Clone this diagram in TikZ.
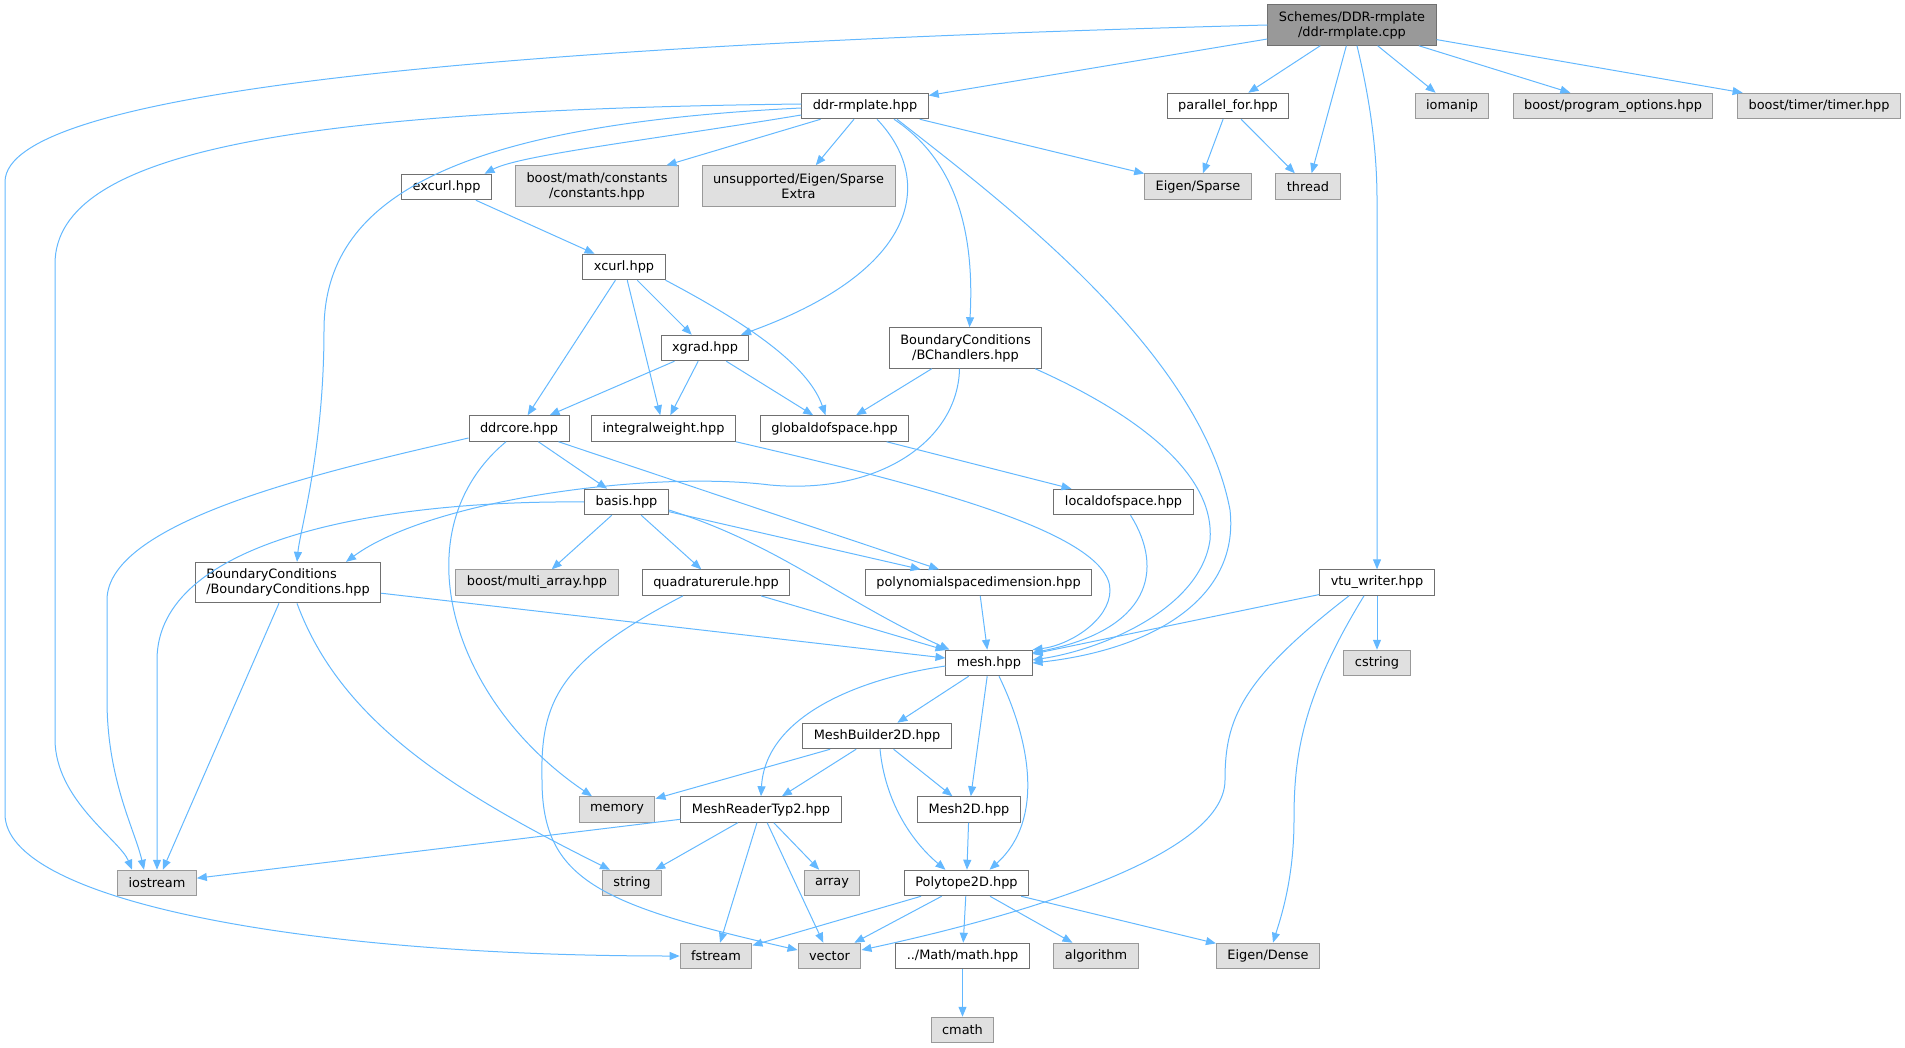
\documentclass[tikz,border=0pt]{standalone}
\usepackage{fontspec}
\setmainfont{DejaVu Sans}
\usetikzlibrary{arrows.meta,positioning}

\definecolor{edgeblue}{HTML}{63B8FF}
\definecolor{boxline}{HTML}{707070}
\definecolor{sysfill}{HTML}{E0E0E0}
\definecolor{sysline}{HTML}{999999}
\definecolor{rootfill}{HTML}{999999}

\begin{document}
\begin{tikzpicture}[x=1pt, y=1pt,
  hdr/.style={draw=boxline, fill=white, line width=1pt, minimum height=25.5pt,
    inner xsep=11pt, inner ysep=2pt, font=\fontsize{12.9}{15}\selectfont},
  sys/.style={hdr, draw=sysline, fill=sysfill},
  root/.style={hdr, fill=rootfill},
  two/.style={align=center, minimum height=40.5pt},
  dep/.style={draw=edgeblue, line width=1pt, -{Triangle[length=10pt, width=8pt]}}]
  % page of 1905 x 1048 px, y runs downwards as negative values
  \useasboundingbox (0,0) rectangle (1905,-1048);

  % Row 0 and 1
  \node[root, two] (cpp) at (1352,-25) {Schemes/DDR-rmplate\\/ddr-rmplate.cpp};
  \node[hdr] (ddrhpp) at (865,-106) {ddr-rmplate.hpp};
  \node[hdr] (parfor) at (1228,-106) {parallel\_for.hpp};
  \node[sys] (iomanip) at (1452,-106) {iomanip};
  \node[sys] (progopt) at (1613,-106) {boost/program\_options.hpp};
  \node[sys] (timer) at (1819,-106) {boost/timer/timer.hpp};

  % Row 2
  \node[hdr] (excurl) at (446.5,-187) {excurl.hpp};
  \node[sys, two] (consts) at (597,-186) {boost/math/constants\\/constants.hpp};
  \node[sys, two] (sparsex) at (798.5,-186) {unsupported/Eigen/Sparse\\Extra};
  \node[sys] (eigsparse) at (1198,-186.5) {Eigen/Sparse};
  \node[sys] (thread) at (1308,-186.5) {thread};

  % Rows 3 to 6
  \node[hdr] (xcurl) at (624,-267) {xcurl.hpp};
  \node[hdr] (xgrad) at (705,-348) {xgrad.hpp};
  \node[hdr, two] (bchandlers) at (965.5,-348) {BoundaryConditions\\/BChandlers.hpp};
  \node[hdr] (ddrcore) at (519,-428.5) {ddrcore.hpp};
  \node[hdr] (intweight) at (663.5,-428.5) {integralweight.hpp};
  \node[hdr] (globaldof) at (834.5,-428.5) {globaldofspace.hpp};
  \node[hdr] (basis) at (626.5,-502) {basis.hpp};
  \node[hdr] (localdof) at (1123.5,-502) {localdofspace.hpp};

  % Row 7 and 8
  \node[hdr, two, align=left] (bcs) at (288,-582.6) {BoundaryConditions\\/BoundaryConditions.hpp};
  \node[sys] (multiarray) at (537,-582.6) {boost/multi\_array.hpp};
  \node[hdr] (quadrule) at (716,-582.6) {quadraturerule.hpp};
  \node[hdr] (polydim) at (978.5,-582.6) {polynomialspacedimension.hpp};
  \node[hdr] (vtu) at (1377,-582.6) {vtu\_writer.hpp};
  \node[hdr] (mesh) at (989,-663) {mesh.hpp};
  \node[sys] (cstring) at (1377,-663) {cstring};

  % Rows 9 to 13
  \node[hdr] (meshbuilder) at (877,-736) {MeshBuilder2D.hpp};
  \node[sys] (memory) at (617,-809.5) {memory};
  \node[hdr] (meshreader) at (761,-809.5) {MeshReaderTyp2.hpp};
  \node[hdr] (meshtwod) at (969,-809.5) {Mesh2D.hpp};
  \node[sys] (iostream) at (157,-883) {iostream};
  \node[sys] (string) at (632,-883) {string};
  \node[sys] (array) at (832,-883) {array};
  \node[hdr] (polytope) at (966.5,-883) {Polytope2D.hpp};
  \node[sys] (fstream) at (716,-956) {fstream};
  \node[sys] (vector) at (829.5,-956) {vector};
  \node[hdr] (mathhpp) at (962.5,-956) {../Math/math.hpp};
  \node[sys] (algorithm) at (1096,-956) {algorithm};
  \node[sys] (eigdense) at (1268,-956) {Eigen/Dense};
  \node[sys] (cmath) at (962.5,-1030) {cmath};

  % Straight includes
  \foreach \a/\b in {cpp/ddrhpp, cpp/parfor, cpp/thread, cpp/iomanip, cpp/progopt, cpp/timer,
      parfor/eigsparse, parfor/thread, ddrhpp/consts, ddrhpp/sparsex, ddrhpp/eigsparse,
      excurl/xcurl, xcurl/ddrcore, xcurl/intweight, xcurl/xgrad, xgrad/ddrcore,
      xgrad/intweight, xgrad/globaldof, bchandlers/globaldof, globaldof/localdof,
      ddrcore/basis, ddrcore/polydim, basis/multiarray, basis/quadrule, basis/polydim,
      bcs/iostream, bcs/mesh, quadrule/mesh, polydim/mesh, vtu/mesh, vtu/cstring,
      mesh/meshbuilder, mesh/meshtwod, meshbuilder/memory, meshbuilder/meshreader,
      meshbuilder/meshtwod, meshreader/iostream, meshreader/string, meshreader/array,
      meshreader/fstream, meshreader/vector, meshtwod/polytope, polytope/fstream,
      polytope/vector, polytope/mathhpp, polytope/algorithm, polytope/eigdense,
      mathhpp/cmath}
    \draw[dep] (\a) -- (\b);

  % Curved includes from the top
  \draw[dep] (cpp.west) .. controls (500,-45) and (5,-90) .. (5,-182) -- (5,-814)
    .. controls (5,-900) and (300,-956) .. (fstream.west);
  \draw[dep] ([xshift=5pt]cpp.south) .. controls (1370,-100) and (1377,-150) .. (1377,-200) -- (vtu.north);
  \draw[dep] ([yshift=2pt]ddrhpp.west) .. controls (300,-110) and (55,-150) .. (55,-264) -- (55,-739)
    .. controls (55,-800) and (120,-840) .. ([xshift=-25pt]iostream.north);
  \draw[dep] ([yshift=-2pt]ddrhpp.west) .. controls (450,-125) and (324,-200) .. (324,-330)
    .. controls (324,-450) and (300,-530) .. ([xshift=9pt]bcs.north);
  \draw[dep] ([yshift=-9pt]ddrhpp.west) .. controls (650,-140) and (520,-155) .. ([xshift=38pt]excurl.north);
  \draw[dep] ([xshift=12pt]ddrhpp.south) .. controls (935,-180) and (920,-270) .. ([xshift=36pt]xgrad.north);
  \draw[dep] ([xshift=29pt]ddrhpp.south) .. controls (955,-160) and (975,-230) .. ([xshift=4pt]bchandlers.north);
  \draw[dep] ([xshift=32pt]ddrhpp.south) .. controls (1000,-200) and (1200,-350) .. (1230,-510)
    .. controls (1240,-600) and (1150,-650) .. (mesh.east);

  % Curved includes in the middle
  \draw[dep] (xcurl.south east) .. controls (760,-330) and (810,-370) .. ([xshift=-9pt]globaldof.north);
  \draw[dep] ([xshift=-6pt]bchandlers.south) .. controls (958,-440) and (880,-495) .. (770,-485)
    .. controls (650,-470) and (430,-500) .. ([xshift=58pt]bcs.north);
  \draw[dep] ([xshift=-7pt]bchandlers.south east) .. controls (1150,-420) and (1215,-480) .. (1210,-540)
    .. controls (1200,-610) and (1100,-650) .. ([yshift=3pt]mesh.east);
  \draw[dep] ([yshift=-9.5pt]ddrcore.west) .. controls (330,-470) and (107,-520) .. (107,-600) -- (107,-700)
    .. controls (107,-780) and (135,-830) .. ([xshift=-13pt]iostream.north);
  \draw[dep] ([xshift=-13pt]ddrcore.south) .. controls (400,-530) and (450,-700) .. ([xshift=-25pt]memory.north);
  \draw[dep] (intweight.south east) .. controls (900,-480) and (1110,-530) .. (1110,-590)
    .. controls (1110,-620) and (1070,-645) .. (mesh.north east);
  \draw[dep] ([xshift=7pt]localdof.south) .. controls (1165,-570) and (1150,-630) .. ([yshift=-3pt]mesh.north east);
  \draw[dep] (basis.west) .. controls (380,-500) and (157,-540) .. (157,-660) -- (iostream.north);
  \draw[dep] ([yshift=-8pt]basis.east) .. controls (780,-545) and (840,-600) .. ([xshift=4pt]mesh.north west);

  % Curved includes near the bottom
  \draw[dep] ([xshift=9pt]bcs.south) .. controls (340,-720) and (450,-790) .. ([xshift=-22pt]string.north);
  \draw[dep] ([xshift=-33pt]quadrule.south) .. controls (560,-660) and (540,-700) .. (542,-780)
    .. controls (542,-880) and (600,-905) .. ([yshift=6pt]vector.west);
  \draw[dep] ([xshift=-28pt]vtu.south) .. controls (1240,-680) and (1225,-720) .. (1225,-780)
    .. controls (1225,-860) and (1000,-920) .. ([yshift=6pt]vector.east);
  \draw[dep] ([xshift=-13pt]vtu.south) .. controls (1300,-700) and (1294,-760) .. (1294,-820)
    .. controls (1294,-880) and (1280,-920) .. ([xshift=5pt]eigdense.north);
  \draw[dep] ([yshift=-3pt]mesh.west) .. controls (850,-680) and (765,-720) .. (meshreader.north);
  \draw[dep] ([xshift=10pt]mesh.south) .. controls (1030,-740) and (1045,-820) .. ([xshift=23pt]polytope.north);
  \draw[dep] ([xshift=3pt]meshbuilder.south) .. controls (885,-800) and (910,-840) .. ([xshift=-21pt]polytope.north);
\end{tikzpicture}
\end{document}
